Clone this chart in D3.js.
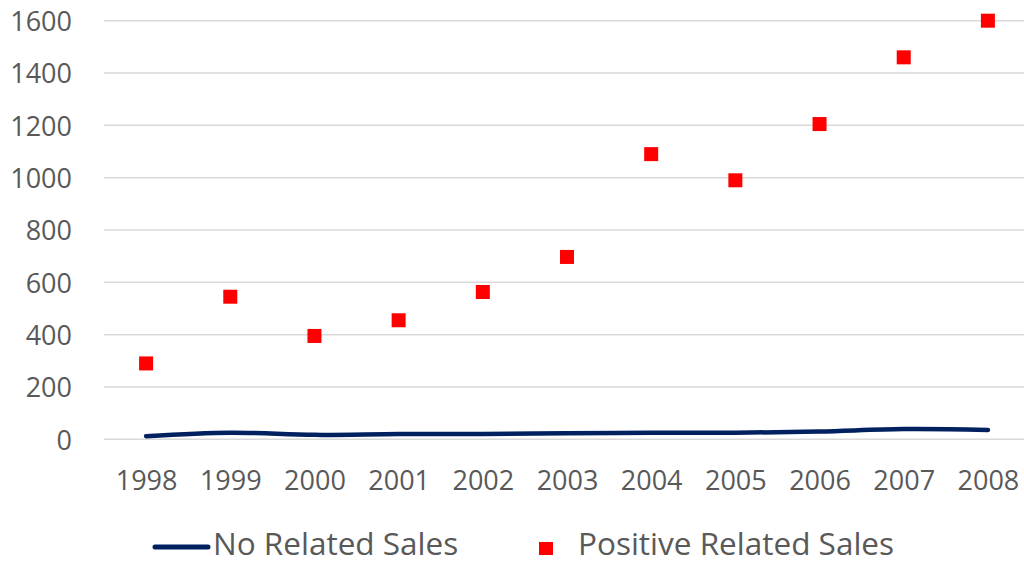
<!DOCTYPE html>
<html>
<head>
<meta charset="utf-8">
<script src="https://cdn.jsdelivr.net/npm/d3@7"></script>
<style>
  html, body { margin: 0; padding: 0; background: #fff; }
  svg { display: block; font-family: "Open Sans", sans-serif; }
</style>
</head>
<body>
<svg id="chart" width="1024" height="564"></svg>
<script>
const years = ["1998","1999","2000","2001","2002","2003","2004","2005","2006","2007","2008"];
const noRelatedSales = [12, 25, 17, 20, 20, 23, 25, 25, 30, 39, 36];
const positiveRelatedSales = [290, 545, 395, 455, 563, 697, 1090, 990, 1205, 1460, 1600];
const yTicks = [0, 200, 400, 600, 800, 1000, 1200, 1400, 1600];
const seriesNames = ["No Related Sales", "Positive Related Sales"];

(function () {
const svg = d3.select("#chart");
const plotLeft = 104, plotRight = 1030, plotTop = 20.7, plotBottom = 439.3;

const x = d3.scalePoint().domain(years).range([plotLeft, plotRight]).padding(0.5);
const y = d3.scaleLinear().domain([0, 1600]).range([plotBottom, plotTop]);

// gridlines
svg.append("g").selectAll("line").data(yTicks).join("line")
  .attr("x1", plotLeft).attr("x2", 1024)
  .attr("y1", d => y(d)).attr("y2", d => y(d))
  .attr("stroke", "#d9d9d9").attr("stroke-width", 1.5);

// y axis labels
const yAxis = d3.axisLeft(y).tickValues(yTicks).tickFormat(d3.format("d")).tickSize(0).tickPadding(0);
const gy = svg.append("g").attr("transform", "translate(72,0)").call(yAxis);
gy.select(".domain").remove();
gy.selectAll("text")
  .attr("font-family", "Open Sans").attr("font-size", 27).attr("fill", "#595959")
  .attr("x", 0).attr("dy", "0.36em");

// x axis labels
const xAxis = d3.axisBottom(x).tickSize(0).tickPadding(0);
const gx = svg.append("g").attr("transform", "translate(0,490)").call(xAxis);
gx.select(".domain").remove();
gx.selectAll("text")
  .attr("font-family", "Open Sans").attr("font-size", 27).attr("fill", "#595959")
  .attr("y", 0).attr("dy", 0);

// line series
const line = d3.line()
  .x((d, i) => x(years[i]))
  .y(d => y(d))
  .curve(d3.curveCatmullRom.alpha(0.5));
svg.append("path").datum(noRelatedSales)
  .attr("d", line)
  .attr("fill", "none").attr("stroke", "#002060")
  .attr("stroke-width", 4.5).attr("stroke-linecap", "round").attr("stroke-linejoin", "round");

// square markers
const sq = 14;
svg.append("g").selectAll("rect").data(positiveRelatedSales).join("rect")
  .attr("x", (d, i) => x(years[i]) - sq / 2)
  .attr("y", d => y(d) - sq / 2)
  .attr("width", sq).attr("height", sq)
  .attr("fill", "#ff0000");

// legend
const lg = svg.append("g");
lg.append("line").attr("x1", 155).attr("x2", 208).attr("y1", 547).attr("y2", 547)
  .attr("stroke", "#002060").attr("stroke-width", 5).attr("stroke-linecap", "round");
lg.append("text").attr("x", 213).attr("y", 555).text(seriesNames[0])
  .attr("font-size", 31.5).attr("fill", "#595959");
lg.append("rect").attr("x", 539).attr("y", 542).attr("width", 14).attr("height", 13)
  .attr("fill", "#ff0000");
lg.append("text").attr("x", 578).attr("y", 555).text(seriesNames[1])
  .attr("font-size", 31.5).attr("fill", "#595959");
})();
</script>
</body>
</html>
